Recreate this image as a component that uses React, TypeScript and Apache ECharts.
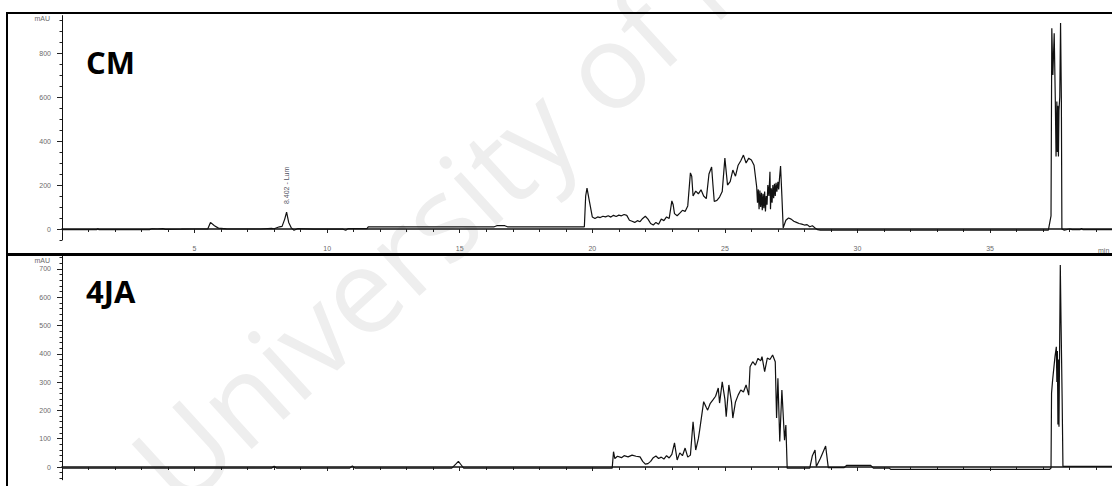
import React, { useEffect, useRef } from "react";
import * as echarts from "echarts";

// ---------- data (time in min, absorbance in mAU) ----------
const cmEarly: number[][] = [
  [0, -3], [1.3, -3], [1.35, 1], [1.4, -3], [3.3, -3], [3.4, 1], [3.6, 0], [3.8, 2], [3.9, -2],
  [4.5, -1], [5.0, 0], [5.5, 1], [5.6, 30], [5.75, 15], [5.9, 4], [6.2, 1], [6.5, 0], [7.5, 0],
  [7.9, 3], [8.0, 1], [8.2, 10], [8.3, 12], [8.4, 45], [8.47, 77], [8.55, 30], [8.65, 5],
  [8.75, -6], [8.9, 2], [9.5, -1], [10.6, -1], [10.7, -6], [10.8, 2], [11.5, 2], [11.55, 10],
  [16.3, 10], [16.4, 15], [16.7, 15], [16.8, 10], [19.7, 10],
];
const cmHump: number[][] = [
  [19.75, 150], [19.8, 186], [19.9, 120], [20.0, 55], [20.1, 48], [20.2, 55], [20.3, 52],
  [20.4, 58], [20.5, 55], [20.6, 60], [20.7, 54], [20.8, 62], [20.9, 57], [21.0, 63], [21.1, 60],
  [21.2, 66], [21.3, 62], [21.4, 40], [21.5, 35], [21.6, 30], [21.7, 38], [21.8, 33], [21.9, 48],
  [22.0, 58], [22.1, 45], [22.2, 25], [22.3, 18], [22.4, 30], [22.5, 22], [22.6, 45], [22.7, 38],
  [22.8, 55], [22.9, 48], [23.0, 128], [23.05, 110], [23.1, 70], [23.2, 60], [23.3, 72],
  [23.4, 85], [23.5, 80], [23.6, 105], [23.7, 255], [23.75, 240], [23.8, 150], [23.9, 172],
  [24.0, 160], [24.1, 178], [24.2, 150], [24.3, 138], [24.4, 250], [24.5, 282], [24.55, 200],
  [24.6, 125], [24.7, 130], [24.8, 145], [24.9, 170], [25.0, 322], [25.05, 260], [25.1, 200],
  [25.2, 215], [25.3, 268], [25.4, 240], [25.5, 290], [25.6, 310], [25.7, 336], [25.8, 300],
  [25.9, 322], [26.0, 314], [26.1, 290], [26.2, 191], [26.23, 120], [26.26, 180], [26.29, 90],
  [26.32, 175], [26.35, 100], [26.38, 165], [26.41, 85], [26.44, 160], [26.47, 95], [26.5, 170],
  [26.53, 80], [26.56, 150], [26.59, 110], [26.62, 200], [26.66, 150], [26.7, 260], [26.72, 90],
  [26.75, 185], [26.78, 120], [26.81, 200], [26.84, 140], [26.87, 205], [26.9, 150], [26.93, 210],
  [26.96, 170], [27.0, 215], [27.03, 180], [27.06, 230], [27.1, 286], [27.15, 150], [27.2, 5],
  [27.3, 40], [27.4, 50], [27.5, 45], [27.6, 35], [27.7, 30], [27.8, 25], [27.9, 22], [28.0, 18],
  [28.1, 20], [28.2, 10], [28.3, 15], [28.4, 5], [28.5, -3], [28.6, -5],
];
const cmLate: number[][] = [
  [37.2, -5], [37.3, 60], [37.33, 913], [37.37, 700], [37.42, 890], [37.46, 600], [37.49, 330],
  [37.52, 580], [37.54, 350], [37.56, 560], [37.58, 330], [37.6, 540], [37.63, 600], [37.66, 936],
  [37.69, 600], [37.71, 0], [37.8, -5], [38.0, 0], [38.1, -3], [38.4, -3], [38.45, 2], [38.5, -3],
  [40, -3],
];

const jaEarly: number[][] = [
  [0, -4], [7.9, -4], [8.0, 3], [8.1, -4], [10.85, -4], [10.95, 4], [11.05, -4], [14.7, -4],
  [14.85, 10], [14.95, 20], [15.05, 8], [15.15, -4], [20.75, -4],
];
const jaHump: number[][] = [
  [20.8, 54], [20.85, 30], [20.95, 38], [21.1, 33], [21.2, 40], [21.35, 36], [21.5, 42],
  [21.65, 38], [21.8, 36], [21.9, 20], [22.0, 10], [22.1, 12], [22.2, 20], [22.3, 33], [22.4, 39],
  [22.5, 30], [22.6, 35], [22.7, 28], [22.8, 40], [22.9, 32], [23.0, 45], [23.1, 85], [23.2, 25],
  [23.3, 50], [23.4, 40], [23.5, 67], [23.6, 35], [23.7, 42], [23.8, 160], [23.9, 60],
  [24.0, 100], [24.05, 131], [24.2, 231], [24.3, 210], [24.35, 201], [24.45, 225], [24.55, 237],
  [24.65, 250], [24.75, 279], [24.8, 226], [24.9, 301], [25.0, 240], [25.05, 178], [25.15, 290],
  [25.25, 230], [25.3, 173], [25.4, 230], [25.5, 254], [25.6, 272], [25.7, 265], [25.8, 290],
  [25.9, 254], [25.95, 354], [26.05, 372], [26.15, 360], [26.25, 384], [26.35, 375], [26.4, 390],
  [26.5, 337], [26.6, 385], [26.7, 380], [26.8, 396], [26.9, 372], [26.95, 173], [27.0, 314],
  [27.07, 90], [27.15, 272], [27.25, 95], [27.3, 148], [27.35, -4], [28.2, -4], [28.3, 40],
  [28.4, 60], [28.45, 2], [28.6, 30], [28.8, 74], [28.9, -2], [29.5, -2], [29.6, 6], [30.5, 6],
  [30.6, -4], [31.2, -4], [31.25, -8],
];
const jaLate: number[][] = [
  [37.25, -8], [37.3, -4], [37.32, 261], [37.36, 307], [37.45, 390], [37.5, 425], [37.52, 300],
  [37.54, 410], [37.56, 150], [37.58, 380], [37.6, 142], [37.65, 714], [37.68, 502], [37.72, 237],
  [37.75, 2], [40, 2],
];

const cmLabelTicks = [0, 200, 400, 600, 800];
const cmMinorTicks = [-50, 0, 50, 100, 150, 200, 250, 300, 350, 400, 450, 500, 550, 600, 650, 700, 750, 800, 850, 900, 950];
const jaLabelTicks = [0, 100, 200, 300, 400, 500, 600, 700];
const jaMinorTicks = [-40, -20, 0, 20, 40, 60, 80, 100, 120, 140, 160, 180, 200, 220, 240, 260, 280, 300, 320, 340, 360, 380, 400, 420, 440, 460, 480, 500, 520, 540, 560, 580, 600, 620, 640, 660, 680, 700, 720, 740];

const panelNames = ["CM", "4JA"];
const peakLabel = "8.402 - Lum";

export default function App() {
  const ref = useRef<HTMLDivElement>(null);
  useEffect(() => {
    if (!ref.current) return;
    const chart = echarts.init(ref.current, null, { renderer: "svg" });
    const labelColor = "#6a6a6a";
    const xAxisBase = (gridIndex: number, showLabel: boolean) => ({
      type: "value",
      gridIndex,
      min: 0,
      max: 39.6,
      interval: 5,
      axisLine: { show: true, lineStyle: { color: "#111", width: 1.5 } },
      axisTick: { show: true, length: 4, lineStyle: { color: "#222" } },
      minorTick: { show: true, splitNumber: 5, length: 3, lineStyle: { color: "#222" } },
      axisLabel: {
        show: showLabel,
        fontSize: 7,
        color: labelColor,
        margin: 5,
        fontFamily: "Liberation Sans",
        showMaxLabel: false,
        formatter: (v: number) => (v === 0 ? "" : String(v)),
      },
      splitLine: { show: false },
      minorSplitLine: { show: false },
    });
    const yMain = (gridIndex: number, min: number, max: number, ticks: number[]) => ({
      type: "value",
      gridIndex,
      min,
      max,
      axisLine: { show: true, onZero: false, lineStyle: { color: "#111", width: 1 } },
      axisTick: { show: true, length: 5, customValues: ticks, lineStyle: { color: "#222" } },
      axisLabel: {
        show: true,
        customValues: ticks,
        fontSize: 7,
        color: labelColor,
        margin: 11,
        fontFamily: "Liberation Sans",
      },
      splitLine: { show: false },
    });
    const yMinor = (gridIndex: number, min: number, max: number, ticks: number[]) => ({
      type: "value",
      gridIndex,
      min,
      max,
      position: "left",
      axisLine: { show: false },
      axisTick: { show: true, length: 2.5, customValues: ticks, lineStyle: { color: "#222" } },
      axisLabel: { show: false, customValues: ticks },
      splitLine: { show: false },
    });
    const lineSeries = (idx: number, data: number[][], extra: any = {}) => ({
      type: "line",
      xAxisIndex: idx,
      yAxisIndex: idx * 2,
      data,
      showSymbol: false,
      symbol: "none",
      clip: true,
      lineStyle: { color: "#111", width: 1.2 },
      z: 3,
      ...extra,
    });

    chart.setOption({
      animation: false,
      backgroundColor: "#ffffff",
      grid: [
        { left: 62, top: 15.6, right: 0, height: 224.4, containLabel: false },
        { left: 62, top: 254.75, right: 0, height: 225, containLabel: false },
      ],
      xAxis: [xAxisBase(0, true), xAxisBase(1, false)],
      yAxis: [
        yMain(0, -50, 970, cmLabelTicks),
        yMinor(0, -50, 970, cmMinorTicks),
        yMain(1, -45, 750, jaLabelTicks),
        yMinor(1, -45, 750, jaMinorTicks),
      ],
      series: [
        lineSeries(0, [...cmEarly, ...cmHump, ...cmLate], {
          markPoint: {
            symbol: "circle",
            symbolSize: 0,
            data: [
              {
                coord: [8.47, 77],
                label: {
                  show: true,
                  formatter: peakLabel,
                  rotate: 90,
                  position: [0, -8],
                  align: "left",
                  verticalAlign: "middle",
                  fontSize: 7,
                  color: "#556",
                  fontFamily: "Liberation Sans",
                },
              },
            ],
          },
        }),
        lineSeries(1, [...jaEarly, ...jaHump, ...jaLate]),
      ],
      graphic: [
        {
          type: "text",
          z: -10,
          x: 150,
          y: 480,
          rotation: 0.74,
          silent: true,
          style: {
            text: "University of Malaya",
            fontSize: 118,
            fontFamily: "Open Sans",
            fill: "#eeeeee",
            align: "left",
            verticalAlign: "middle",
          },
        },
        { type: "line", z: 10, shape: { x1: 7, y1: 13, x2: 1112, y2: 13 }, style: { stroke: "#000", lineWidth: 2 } },
        { type: "line", z: 10, shape: { x1: 7, y1: 12, x2: 7, y2: 486 }, style: { stroke: "#000", lineWidth: 2 } },
        { type: "line", z: 10, shape: { x1: 7, y1: 254.5, x2: 1112, y2: 254.5 }, style: { stroke: "#000", lineWidth: 3 } },
        {
          type: "text", z: 10, x: 50, y: 18,
          style: { text: "mAU", fontSize: 7, fill: labelColor, align: "right", verticalAlign: "middle", fontFamily: "Liberation Sans" },
        },
        {
          type: "text", z: 10, x: 50, y: 260,
          style: { text: "mAU", fontSize: 7, fill: labelColor, align: "right", verticalAlign: "middle", fontFamily: "Liberation Sans" },
        },
        {
          type: "text", z: 10, x: 1098, y: 250,
          style: { text: "min", fontSize: 7, fill: labelColor, align: "left", verticalAlign: "middle", fontFamily: "Liberation Sans" },
        },
        {
          type: "text", z: 10, x: 86, y: 62,
          style: { text: panelNames[0], fontSize: 31, fontWeight: "bold", fill: "#000", align: "left", verticalAlign: "middle", fontFamily: "Open Sans" },
        },
        {
          type: "text", z: 10, x: 86, y: 291,
          style: { text: panelNames[1], fontSize: 31, fontWeight: "bold", fill: "#000", align: "left", verticalAlign: "middle", fontFamily: "Open Sans" },
        },
      ],
    });
    return () => chart.dispose();
  }, []);
  return (
    <div
      ref={ref}
      style={{ position: "absolute", left: 0, top: 0, width: 1112, height: 486, overflow: "hidden" }}
    />
  );
}
